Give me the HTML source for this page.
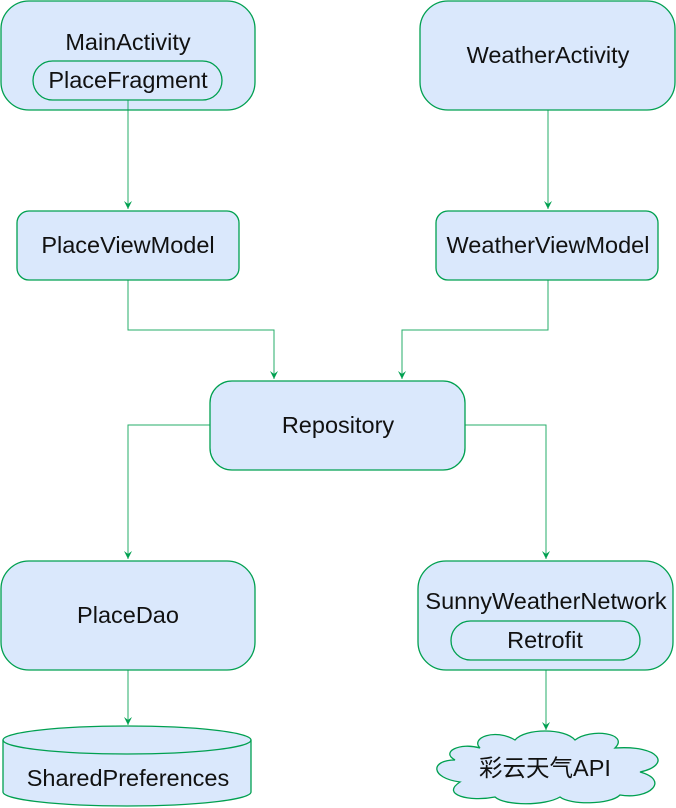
<!DOCTYPE html>
<html><head><meta charset="utf-8"><style>html,body{margin:0;padding:0;background:#fff}svg{display:block}</style></head>
<body>
<svg width="676" height="808" viewBox="0 0 676 808" xmlns="http://www.w3.org/2000/svg" font-family="Liberation Sans, Noto Sans CJK SC, sans-serif" font-size="23.5" text-anchor="middle">
<defs><marker id="a" markerWidth="10" markerHeight="10" refX="9" refY="5" orient="auto" markerUnits="userSpaceOnUse" viewBox="0 0 10 10"><path d="M1,1 L9,5 L1,9 L4,5 Z" fill="#00a050"/></marker></defs>
<g fill="#dae8fc" stroke="#00a050" stroke-width="1.3">
<rect x="1" y="1" width="254" height="109" rx="28"/>
<rect x="33" y="61" width="189" height="39" rx="19.5"/>
<rect x="420" y="1" width="255" height="109" rx="28"/>
<rect x="17" y="211" width="222" height="69" rx="12"/>
<rect x="436" y="211" width="222" height="69" rx="12"/>
<rect x="210" y="381" width="255" height="89" rx="22"/>
<rect x="1" y="561" width="254" height="109" rx="28"/>
<rect x="418" y="561" width="255" height="109" rx="28"/>
<rect x="451" y="621" width="189" height="39" rx="19.5"/>
<path d="M3,740 A124,14 0 0 1 251,740 L251,792 A124,14 0 0 1 3,792 Z"/>
<path d="M3,740 A124,14 0 0 0 251,740" fill="none"/>
<path d="M480,748 C470,738 495,728 515,740 C525,728 565,728 575,740 C590,728 630,733 615,748 C660,745 672,765 640,772 C670,780 650,800 620,795 C610,805 570,805 560,797 C545,806 505,806 495,797 C470,802 440,795 460,782 C430,778 430,760 455,760 C440,752 460,742 480,748 Z"/>
</g>
<g fill="none" stroke="#00a050" stroke-width="1" stroke-opacity="0.85">
<path d="M128,100 V209" marker-end="url(#a)"/>
<path d="M548,110 V209" marker-end="url(#a)"/>
<path d="M128,280 V330 H274 V379" marker-end="url(#a)"/>
<path d="M548,280 V330 H402 V379" marker-end="url(#a)"/>
<path d="M210,425 H128 V559" marker-end="url(#a)"/>
<path d="M465,425 H546 V559" marker-end="url(#a)"/>
<path d="M128,670 V725" marker-end="url(#a)"/>
<path d="M546,670 V730" marker-end="url(#a)"/>
</g>
<g fill="#111">
<text x="128" y="50">MainActivity</text>
<text x="128" y="88">PlaceFragment</text>
<text x="548" y="63">WeatherActivity</text>
<text x="128" y="253">PlaceViewModel</text>
<text x="548" y="253">WeatherViewModel</text>
<text x="338" y="433">Repository</text>
<text x="128" y="623">PlaceDao</text>
<text x="546" y="609">SunnyWeatherNetwork</text>
<text x="545" y="648">Retrofit</text>
<text x="128" y="786">SharedPreferences</text>
<text x="545" y="776">彩云天气API</text>
</g>
</svg>
</body></html>
